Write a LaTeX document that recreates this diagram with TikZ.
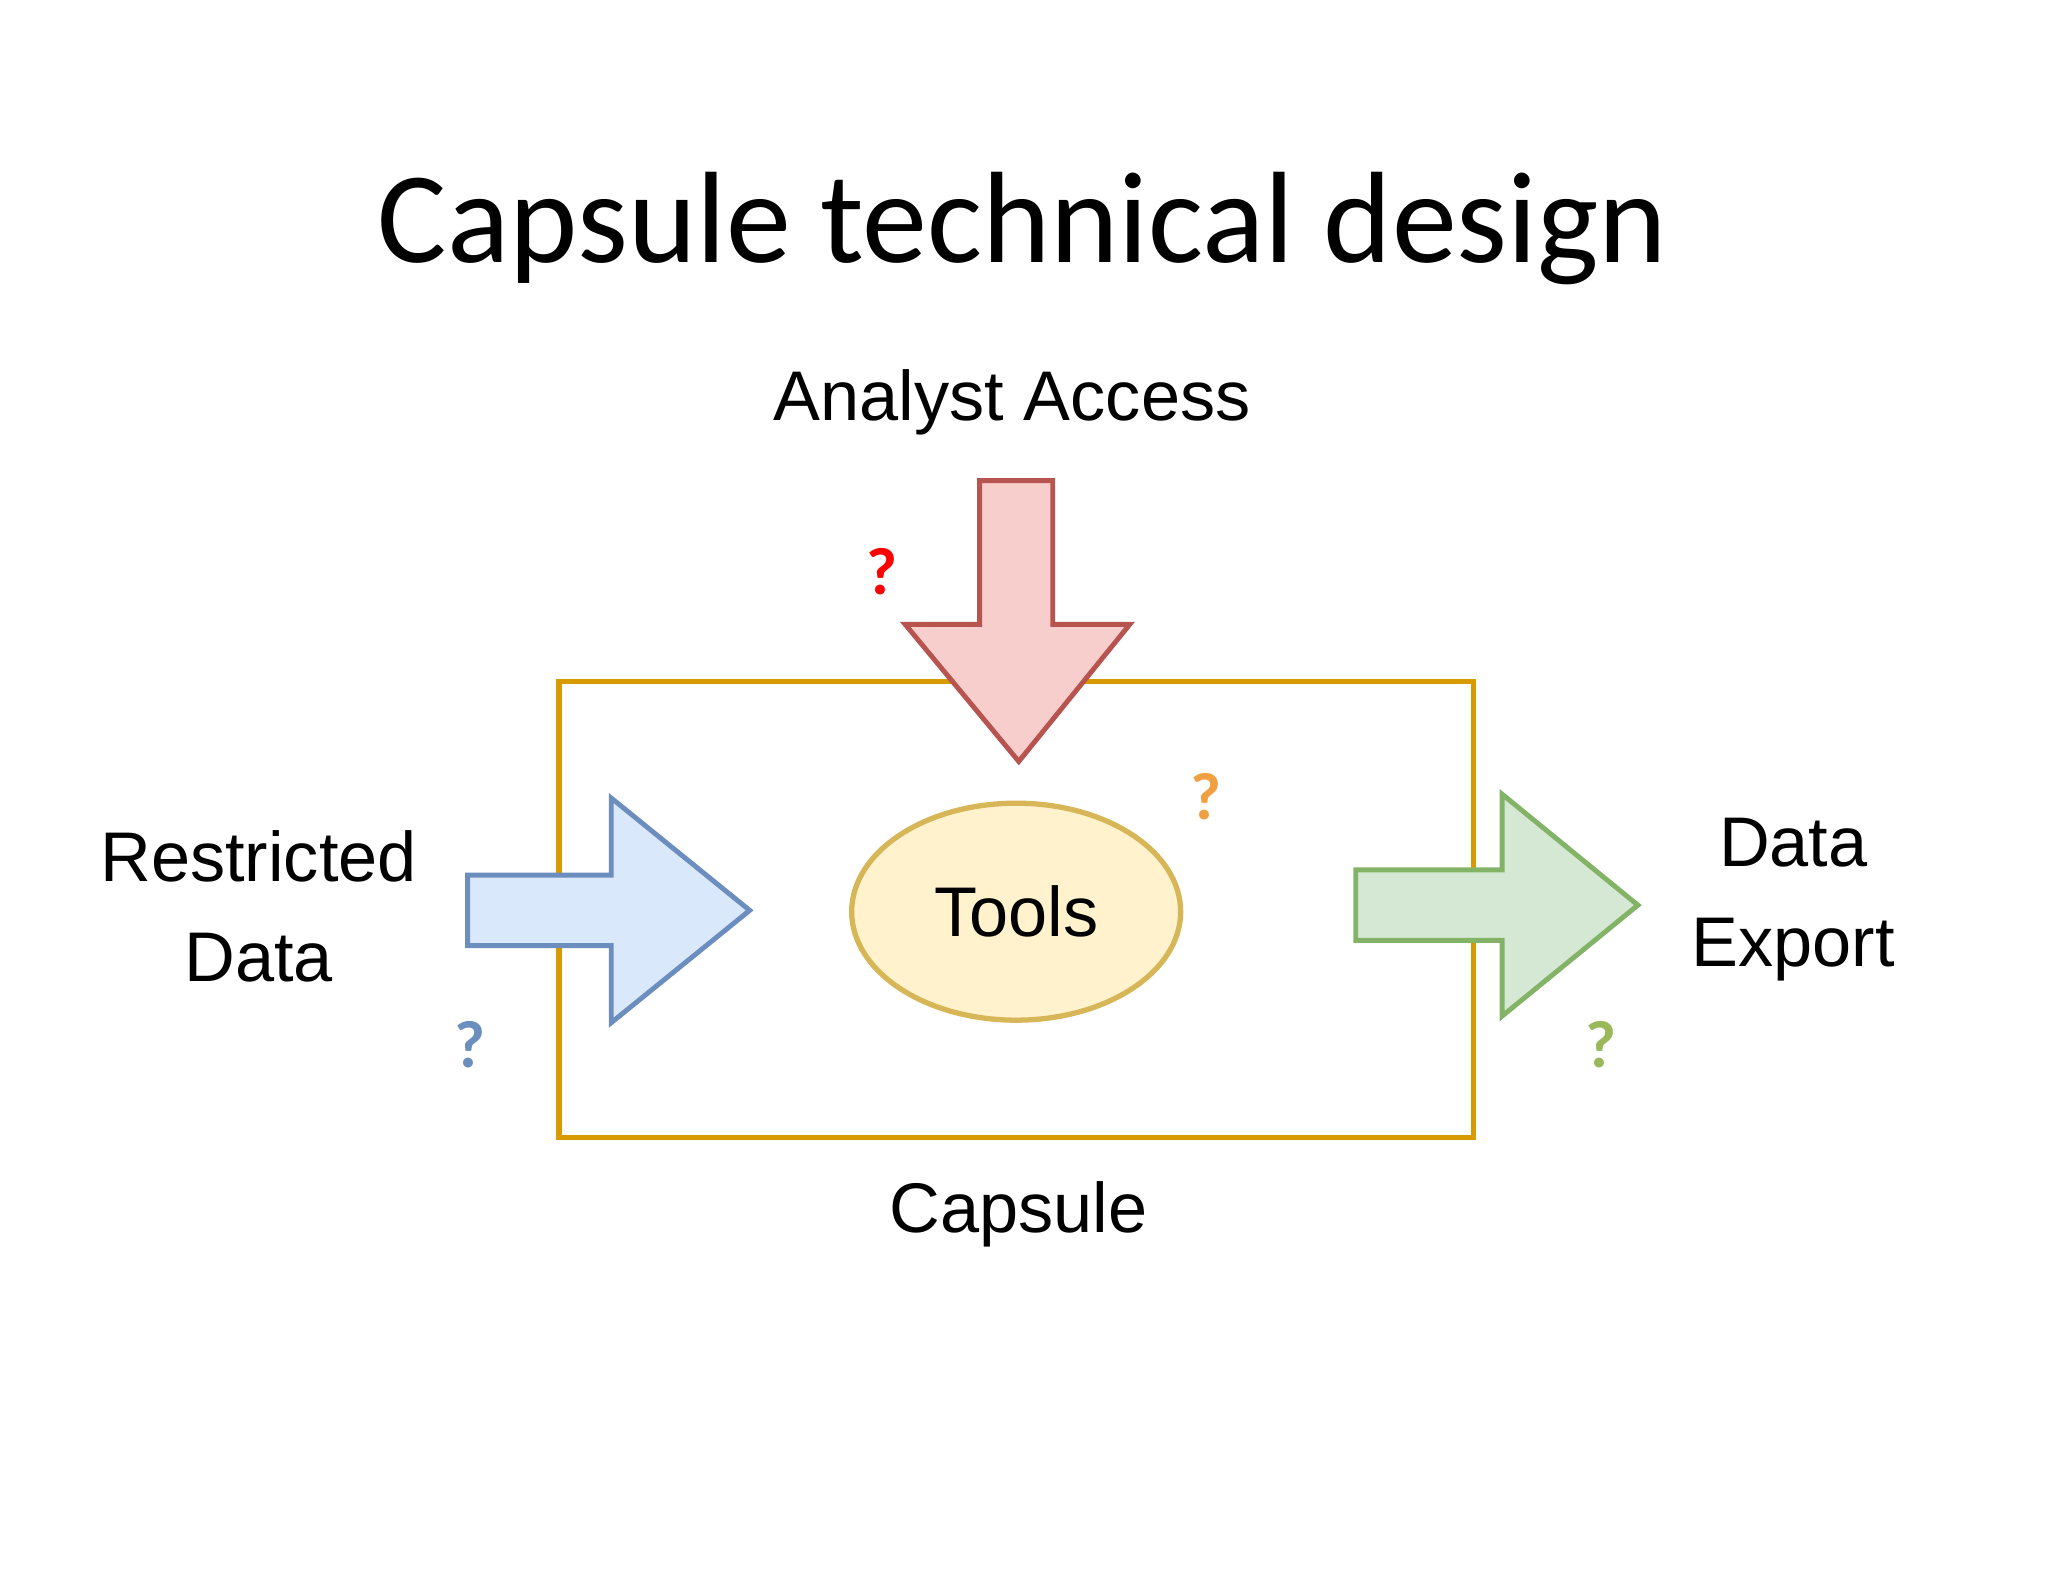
\documentclass[tikz,border=0pt]{standalone}
\usepackage{fontspec}
\setmainfont{Liberation Sans}
\newfontfamily\titlefont{Carlito}
\usetikzlibrary{positioning,shapes.geometric}
\definecolor{boxline}{HTML}{D79B00}
\definecolor{redfill}{HTML}{F8CECC}\definecolor{redline}{HTML}{B85450}
\definecolor{bluefill}{HTML}{DAE8FC}\definecolor{blueline}{HTML}{6C8EBF}
\definecolor{greenfill}{HTML}{D5E8D4}\definecolor{greenline}{HTML}{82B366}
\definecolor{toolfill}{HTML}{FFF2CC}\definecolor{toolline}{HTML}{D6B656}
\definecolor{qorange}{HTML}{F0A040}\definecolor{qgreen}{HTML}{9AB85A}
\tikzset{
  label text/.style={font=\fontsize{20}{28.5}\selectfont, align=center},
  question/.style={font=\titlefont\bfseries\fontsize{19}{19}\selectfont},
  big arrow/.style={line width=1.4pt, line join=miter},
}
\begin{document}
\begin{tikzpicture}[x=0.01306cm, y=-0.01306cm]
    \useasboundingbox (0,0) rectangle (1568,1211);
    % Title
    \node[font=\titlefont\fontsize{37}{37}\selectfont] (title) at (783,175) {Capsule technical design};
    % Capsule box
    \draw[boxline, line width=1.5pt] (428,522) rectangle (1128,871);
    \node[label text] (capsule) at (780,930) {Capsule};
    % Tools
    \node[ellipse, draw=toolline, fill=toolfill, line width=1.5pt, minimum width=3.29cm, minimum height=2.17cm, inner sep=0pt, label text] (tools) at (778,698) {Tools};
    % Arrows
    \draw[big arrow, draw=redline, fill=redfill] (750,368) -- (806,368) -- (806,478) -- (865,478) -- (780,583) -- (693,478) -- (750,478) -- cycle;
    \draw[big arrow, draw=blueline, fill=bluefill] (358,670) -- (468,670) -- (468,611) -- (574,697) -- (468,783) -- (468,724) -- (358,724) -- cycle;
    \draw[big arrow, draw=greenline, fill=greenfill] (1038,666) -- (1150,666) -- (1150,608) -- (1254,693) -- (1150,778) -- (1150,720) -- (1038,720) -- cycle;
    % Labels
    \node[label text] (analyst) at (775,308) {Analyst Access};
    \node[label text] (restricted) at (198,694) {Restricted\\Data};
    \node[label text] (export) at (1373,689) {Data\\Export};
    % Question marks
    \node[question, text=red] (qred) at (675,438) {?};
    \node[question, text=blueline] (qblue) at (360,800) {?};
    \node[question, text=qorange] (qorange) at (923,610) {?};
    \node[question, text=qgreen] (qgreen) at (1226,800) {?};
\end{tikzpicture}
\end{document}
